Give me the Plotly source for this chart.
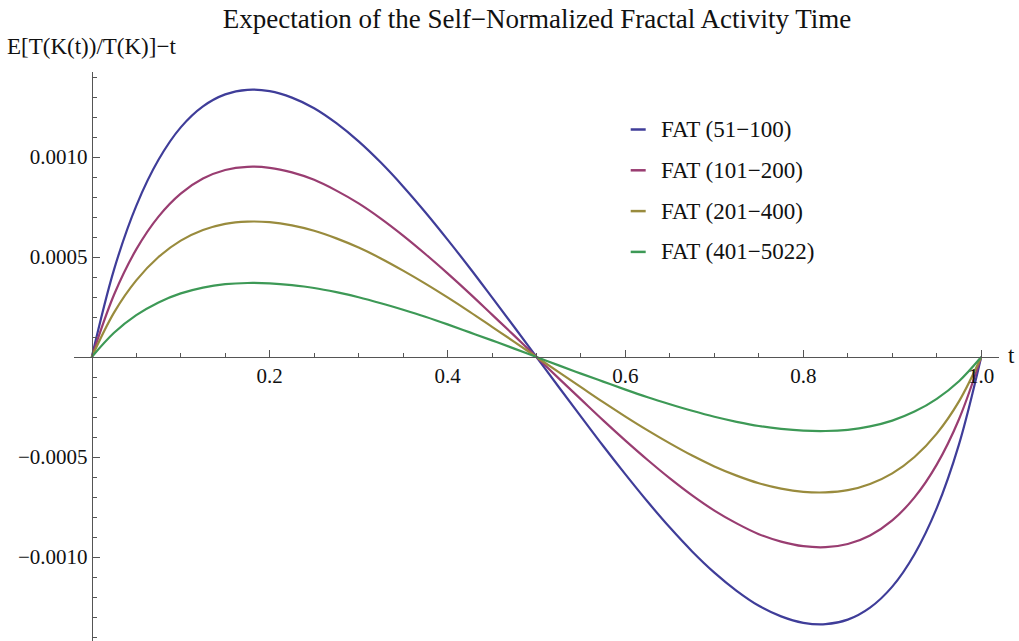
import plotly.graph_objects as go

# Time grid (fraction of the sample period)
t = [0, 0.025, 0.05, 0.075, 0.1, 0.125, 0.15, 0.175, 0.2, 0.225, 0.25, 0.275,
     0.3, 0.325, 0.35, 0.375, 0.4, 0.425, 0.45, 0.475, 0.5, 0.525, 0.55, 0.575,
     0.6, 0.625, 0.65, 0.675, 0.7, 0.725, 0.75, 0.775, 0.8, 0.825, 0.85, 0.875,
     0.9, 0.925, 0.95, 0.975, 1.0]

fat_51_100 = [0, 0.000437, 0.000756, 0.000986, 0.001148, 0.001253, 0.001313, 0.001336,
              0.001329, 0.001297, 0.001244, 0.001169, 0.001078, 0.000972, 0.000853,
              0.000724, 0.000587, 0.000445, 0.000298, 0.000150, 0,
              -0.000150, -0.000298, -0.000445, -0.000587, -0.000724, -0.000853, -0.000972,
              -0.001078, -0.001169, -0.001244, -0.001297, -0.001329, -0.001336, -0.001313,
              -0.001253, -0.001148, -0.000986, -0.000756, -0.000437, 0]

fat_101_200 = [0, 0.000311, 0.000538, 0.000702, 0.000817, 0.000892, 0.000935, 0.000951,
               0.000946, 0.000923, 0.000886, 0.000832, 0.000768, 0.000692, 0.000607,
               0.000515, 0.000418, 0.000317, 0.000212, 0.000107, 0,
               -0.000107, -0.000212, -0.000317, -0.000418, -0.000515, -0.000607, -0.000692,
               -0.000768, -0.000832, -0.000886, -0.000923, -0.000946, -0.000951, -0.000935,
               -0.000892, -0.000817, -0.000702, -0.000538, -0.000311, 0]

fat_201_400 = [0, 0.000222, 0.000383, 0.000500, 0.000582, 0.000635, 0.000666, 0.000677,
               0.000674, 0.000658, 0.000631, 0.000593, 0.000547, 0.000493, 0.000432,
               0.000367, 0.000298, 0.000226, 0.000151, 0.000076, 0,
               -0.000076, -0.000151, -0.000226, -0.000298, -0.000367, -0.000432, -0.000493,
               -0.000547, -0.000593, -0.000631, -0.000658, -0.000674, -0.000677, -0.000666,
               -0.000635, -0.000582, -0.000500, -0.000383, -0.000222, 0]

fat_401_5022 = [0, 0.000121, 0.000209, 0.000273, 0.000318, 0.000347, 0.000364, 0.000370,
                0.000368, 0.000359, 0.000345, 0.000324, 0.000299, 0.000269, 0.000236,
                0.000201, 0.000163, 0.000123, 0.000083, 0.000042, 0,
                -0.000042, -0.000083, -0.000123, -0.000163, -0.000201, -0.000236, -0.000269,
                -0.000299, -0.000324, -0.000345, -0.000359, -0.000368, -0.000370, -0.000364,
                -0.000347, -0.000318, -0.000273, -0.000209, -0.000121, 0]

series_names = ["FAT (51\u2212100)", "FAT (101\u2212200)", "FAT (201\u2212400)", "FAT (401\u22125022)"]
series_values = [fat_51_100, fat_101_200, fat_201_400, fat_401_5022]
series_colors = ["#3F3D99", "#993D71", "#998B3D", "#3D9956"]

x_tick_vals = [0.2, 0.4, 0.6, 0.8, 1.0]
x_tick_text = ["0.2", "0.4", "0.6", "0.8", "1.0"]
x_minor_vals = [0.05, 0.1, 0.15, 0.25, 0.3, 0.35, 0.45, 0.5,
                0.55, 0.65, 0.7, 0.75, 0.85, 0.9, 0.95]
y_tick_vals = [0.0010, 0.0005, -0.0005, -0.0010]
y_tick_text = ["0.0010", "0.0005", "\u22120.0005", "\u22120.0010"]
y_minor_vals = [0.0014, 0.0013, 0.0012, 0.0011, 0.0009, 0.0008, 0.0007, 0.0006,
                0.0004, 0.0003, 0.0002, 0.0001, -0.0001, -0.0002, -0.0003, -0.0004,
                -0.0006, -0.0007, -0.0008, -0.0009, -0.0011, -0.0012, -0.0013, -0.0014]

FONT = "Liberation Serif"
W, H = 1019, 641
M_L, M_R, M_T, M_B = 74, 19.5, 72, 0
X_RANGE = [-0.02, 1.02]
Y_RANGE = [-0.00142, 0.001425]


def px_x(px):
    """Figure pixel column -> paper x."""
    return (px - M_L) / (W - M_L - M_R)


def px_y(py):
    """Figure pixel row -> paper y."""
    return (H - M_B - py) / (H - M_T - M_B)


fig = go.Figure()
for name, vals, col in zip(series_names, series_values, series_colors):
    fig.add_trace(go.Scatter(x=t, y=vals, mode="lines", name=name,
                             line=dict(color=col, width=2.2, shape="spline", smoothing=1.0),
                             showlegend=False))

# axes cross at the origin
x_pos = (0 - Y_RANGE[0]) / (Y_RANGE[1] - Y_RANGE[0])
y_pos = (0 - X_RANGE[0]) / (X_RANGE[1] - X_RANGE[0])

axis_col = "#555555"
text_col = "#111111"
fig.update_xaxes(range=X_RANGE, anchor="free", position=x_pos, side="bottom",
                 showline=True, linecolor=axis_col, linewidth=1,
                 showgrid=False, zeroline=False,
                 tickmode="array", tickvals=x_tick_vals, ticktext=x_tick_text,
                 ticks="inside", ticklen=7, tickcolor=axis_col, tickwidth=1,
                 tickfont=dict(family=FONT, size=21, color=text_col),
                 minor=dict(tickmode="array", tickvals=x_minor_vals,
                            ticks="inside", ticklen=4, tickcolor=axis_col, tickwidth=1))
fig.update_yaxes(range=Y_RANGE, anchor="free", position=y_pos, side="left",
                 showline=True, linecolor=axis_col, linewidth=1,
                 showgrid=False, zeroline=False,
                 tickmode="array", tickvals=y_tick_vals, ticktext=y_tick_text,
                 ticks="inside", ticklen=7, tickcolor=axis_col, tickwidth=1,
                 tickfont=dict(family=FONT, size=21, color=text_col),
                 minor=dict(tickmode="array", tickvals=y_minor_vals,
                            ticks="inside", ticklen=4, tickcolor=axis_col, tickwidth=1))

# legend drawn as short line segments with labels
legend_y0 = 129.5
legend_step = 40.8
for i, (name, col) in enumerate(zip(series_names, series_colors)):
    yy = px_y(legend_y0 + i * legend_step)
    fig.add_shape(type="line", xref="paper", yref="paper",
                  x0=px_x(631), x1=px_x(646), y0=yy, y1=yy,
                  line=dict(color=col, width=2.5))
    fig.add_annotation(xref="paper", yref="paper", x=px_x(659), y=yy,
                       xanchor="left", yanchor="middle", showarrow=False,
                       text=name, font=dict(family=FONT, size=23, color=text_col))

# axis labels
fig.add_annotation(xref="paper", yref="paper", x=px_x(5), y=px_y(46),
                   xanchor="left", yanchor="middle", showarrow=False,
                   text="E[T(K(t))/T(K)]\u2212t",
                   font=dict(family=FONT, size=23, color=text_col))
fig.add_annotation(xref="paper", yref="paper", x=px_x(1007), y=px_y(355),
                   xanchor="left", yanchor="middle", showarrow=False,
                   text="t", font=dict(family=FONT, size=23, color=text_col))

fig.update_layout(
    width=W, height=H,
    margin=dict(l=M_L, r=M_R, t=M_T, b=M_B),
    paper_bgcolor="white", plot_bgcolor="white",
    title=dict(text="Expectation of the Self\u2212Normalized Fractal Activity Time",
               x=537 / W, xanchor="center", y=1 - 19 / H, yanchor="middle",
               font=dict(family=FONT, size=27, color=text_col)),
)

fig.write_html("out.html")
